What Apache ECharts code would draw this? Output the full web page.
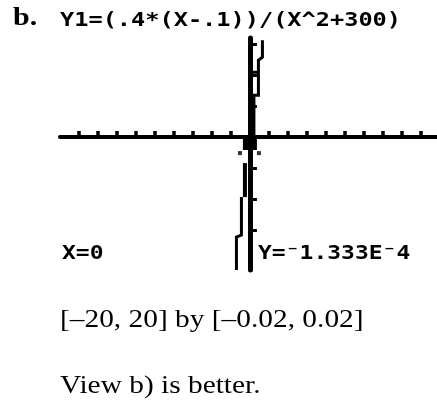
<!DOCTYPE html>
<html>
<head>
<meta charset="utf-8">
<style>
  html, body { margin: 0; padding: 0; background: #ffffff; }
  #chart { width: 437px; height: 403px; }
</style>
<script src="https://cdn.jsdelivr.net/npm/echarts@6/dist/echarts.min.js"></script>
</head>
<body>
<div id="chart"></div>
<script>
// Visible part of the calculator window [-20, 20] by [-0.02, 0.02]
const xRange = [-20, 19.7];
const yRange = [-0.02145, 0.016];
// Xscl = 2, Yscl = 0.005 (tick marks on the axes, origin excluded)
const xTicks = [-18, -16, -14, -12, -10, -8, -6, -4, -2, 2, 4, 6, 8, 10, 12, 14, 16, 18];
const yTicks = [-0.015, -0.01, -0.005, 0.005, 0.01, 0.015];

// Pixel trace of Y1 near the origin, split into its visible pieces
const traceUpperRight = [[1.316, 0.01565], [1.316, 0.0129], [0.895, 0.01242], [0.895, 0.00677], [0.316, 0.00677]];
const traceCrossbar = [[0.21, 0.01048], [0.895, 0.01048]];
const traceUpperThick = [[0.368, 0.00677], [0.368, 0]];
const traceBlob = [[-0.737, -0.00105], [0.737, -0.00105]];
const traceLowerThick = [[-0.526, -0.00419], [-0.526, -0.00968]];
const traceLowerLeft = [[-0.895, -0.00968], [-0.895, -0.01581], [-1.42, -0.01613], [-1.42, -0.02145]];
const traceDots = [[-1.05, -0.00258], [0.947, -0.00258]];

// Texts
const panelLabel = 'b.';
const funcText = 'Y1=(.4*(X-.1))/(X^2+300)';
const xReadout = 'X=0';
const yReadout = 'Y=\u207B1.333E\u207B4';
const windowText = '[\u201320, 20] by [\u20130.02, 0.02]';
const verdictText = 'View b) is better.';

const INK = '#000000';
const calcFont = '"DejaVu Sans Mono", monospace';
const serif = '"Liberation Serif", "Times New Roman", serif';

function seg(data, width) {
  return {
    type: 'line',
    data: data,
    showSymbol: false,
    silent: true,
    animation: false,
    lineStyle: { color: INK, width: width, cap: 'butt', join: 'miter' },
    z: 3
  };
}

const chart = echarts.init(document.getElementById('chart'), null, { renderer: 'canvas' });

chart.setOption({
  animation: false,
  backgroundColor: '#ffffff',
  grid: { left: 60, right: 0, top: 38, bottom: 133, containLabel: false },
  xAxis: {
    type: 'value', min: xRange[0], max: xRange[1],
    axisLine: { onZero: true, lineStyle: { color: INK, width: 4 } },
    axisTick: { show: true, inside: true, length: 6, customValues: xTicks, lineStyle: { color: INK, width: 3.5 } },
    axisLabel: { show: false },
    splitLine: { show: false }
  },
  yAxis: {
    type: 'value', min: yRange[0], max: yRange[1],
    axisLine: { onZero: true, lineStyle: { color: INK, width: 5 } },
    axisTick: { show: true, inside: true, length: 7, customValues: yTicks, lineStyle: { color: INK, width: 3 } },
    axisLabel: { show: false },
    splitLine: { show: false }
  },
  series: [
    seg(traceUpperRight, 3),
    seg(traceCrossbar, 3),
    seg(traceUpperThick, 4),
    seg(traceBlob, 13),
    seg(traceLowerThick, 4),
    seg(traceLowerLeft, 3),
    {
      type: 'scatter', data: traceDots, symbol: 'rect', symbolSize: 4,
      itemStyle: { color: INK }, silent: true, z: 3
    }
  ],
  graphic: [
    { type: 'text', x: 13, y: 6, scaleX: 1.2, style: { text: panelLabel, font: 'bold 25px ' + serif, fill: INK } },
    { type: 'text', x: 60, y: 11, scaleX: 1.18, style: { text: funcText, font: 'bold 20px ' + calcFont, fill: INK } },
    { type: 'text', x: 62, y: 244, scaleX: 1.15, style: { text: xReadout, font: 'bold 20px ' + calcFont, fill: INK } },
    { type: 'text', x: 258, y: 244, scaleX: 1.15, style: { text: yReadout, font: 'bold 20px ' + calcFont, fill: INK } },
    { type: 'text', x: 60, y: 307, scaleX: 1.13, style: { text: windowText, font: '26px ' + serif, fill: INK } },
    { type: 'text', x: 60, y: 373, scaleX: 1.13, style: { text: verdictText, font: '26px ' + serif, fill: INK } }
  ]
});
</script>
</body>
</html>
